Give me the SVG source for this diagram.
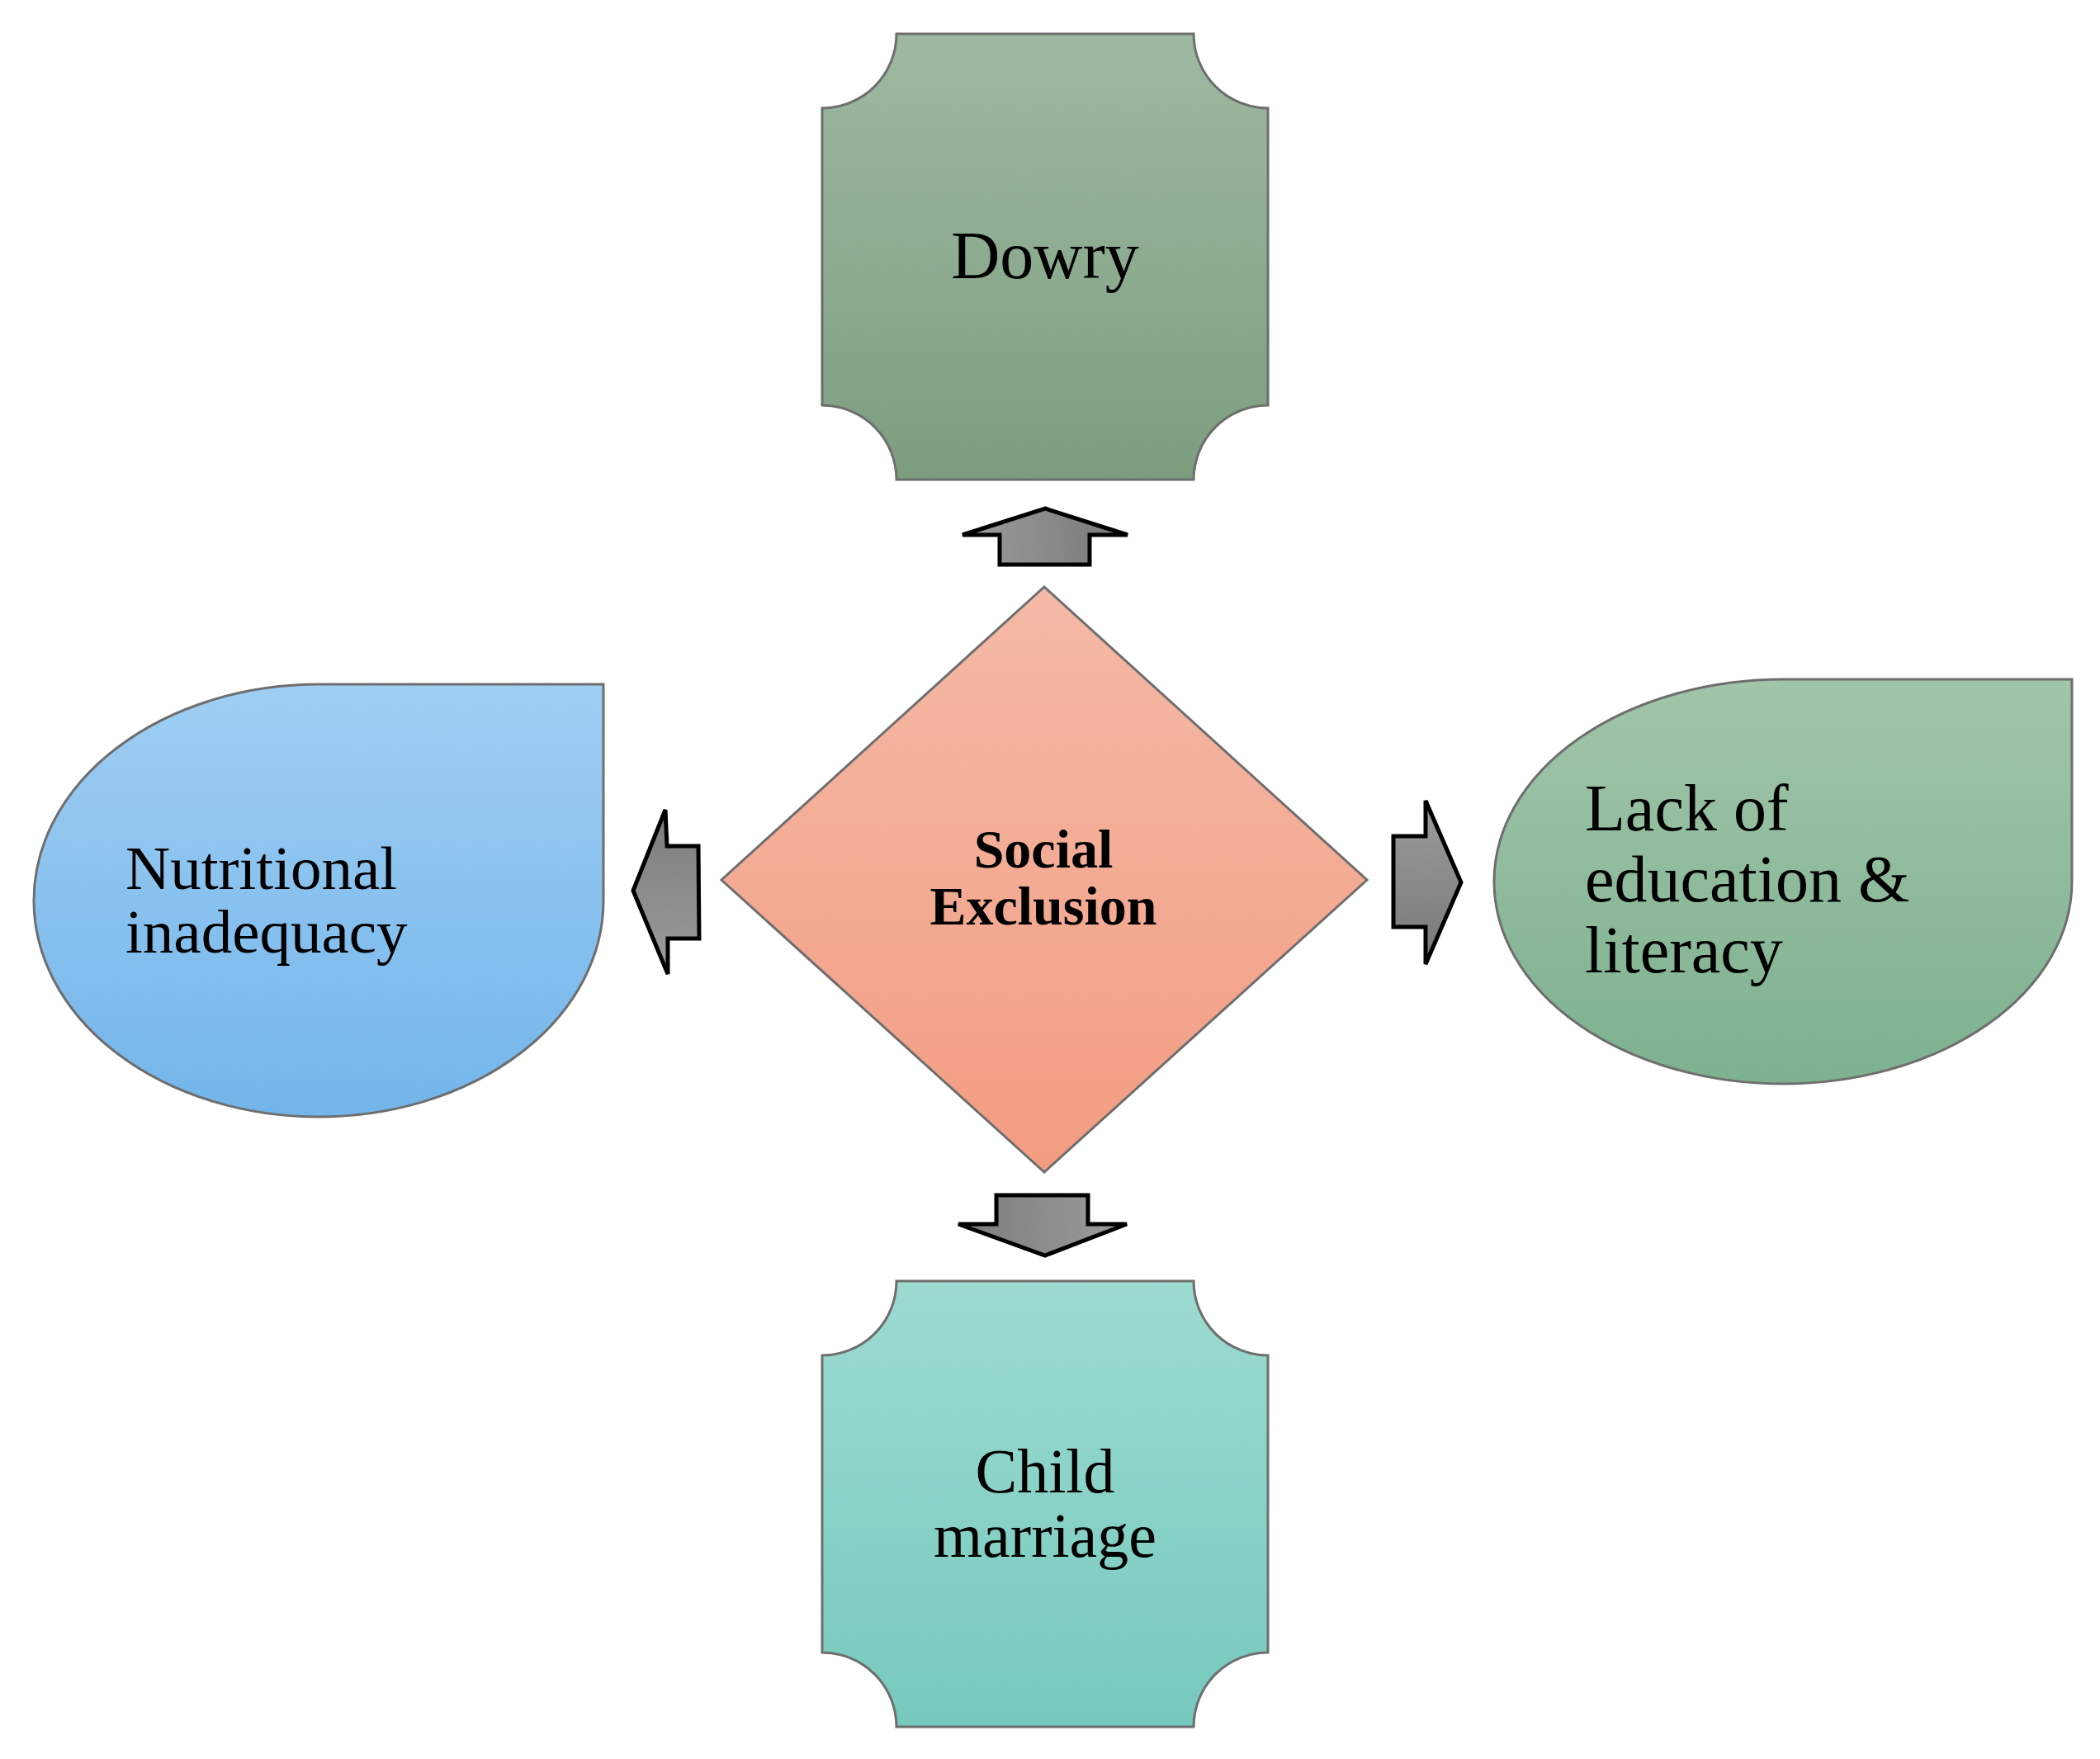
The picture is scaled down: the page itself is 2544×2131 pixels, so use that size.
<svg xmlns="http://www.w3.org/2000/svg" width="2544" height="2131" viewBox="0 0 2544 2131">
<defs>
<linearGradient id="gDowry" x1="0" y1="0" x2="0" y2="1"><stop offset="0" stop-color="#9EB9A1"/><stop offset="1" stop-color="#7C9E7F"/></linearGradient>
<linearGradient id="gChild" x1="0" y1="0" x2="0" y2="1"><stop offset="0" stop-color="#9DDBD1"/><stop offset="1" stop-color="#75C9BC"/></linearGradient>
<linearGradient id="gDiamond" x1="0" y1="0" x2="0" y2="1"><stop offset="0" stop-color="#F4BAA6"/><stop offset="1" stop-color="#F39C82"/></linearGradient>
<linearGradient id="gBlue" x1="0" y1="0" x2="0" y2="1"><stop offset="0" stop-color="#9FCEF3"/><stop offset="1" stop-color="#73B5EA"/></linearGradient>
<linearGradient id="gGreen" x1="0" y1="0" x2="0" y2="1"><stop offset="0" stop-color="#A1C5A9"/><stop offset="1" stop-color="#7DB18F"/></linearGradient>
<linearGradient id="gUp" x1="0" y1="0" x2="1" y2="0"><stop offset="0" stop-color="#9C9C9C"/><stop offset="1" stop-color="#787878"/></linearGradient>
<linearGradient id="gDown" x1="0" y1="0" x2="1" y2="0"><stop offset="0" stop-color="#7C7C7C"/><stop offset="1" stop-color="#9C9C9C"/></linearGradient>
<linearGradient id="gLeft" x1="0" y1="0" x2="0" y2="1"><stop offset="0" stop-color="#7C7C7C"/><stop offset="1" stop-color="#9C9C9C"/></linearGradient>
<linearGradient id="gRight" x1="0" y1="0" x2="0" y2="1"><stop offset="0" stop-color="#9C9C9C"/><stop offset="1" stop-color="#787878"/></linearGradient>
</defs>
<style>
.shape{stroke:#6E6E6E;stroke-width:3}
.arrow{stroke:#000;stroke-width:5;stroke-linejoin:miter}
.t{font-family:"Liberation Serif","Times New Roman",serif;fill:#000}
.b{font-weight:bold}
</style>
<rect width="2544" height="2131" fill="#FFFFFF"/>
<g id="connectors">
<path class="arrow" fill="url(#gUp)" d="M1266,616 L1366,648 L1320,648 L1320,684 L1211,684 L1211,648 L1166,648 Z"/>
<path class="arrow" fill="url(#gDown)" d="M1207,1448 L1318,1448 L1318,1483 L1365,1483 L1266,1521 L1161,1483 L1207,1483 Z"/>
<path class="arrow" fill="url(#gLeft)" d="M767,1079 L806,981 L808,1025 L846,1025 L847,1137 L809,1137 L809,1180 Z"/>
<path class="arrow" fill="url(#gRight)" d="M1688,1013 L1727,1013 L1727,970 L1770,1069 L1727,1168 L1727,1123 L1688,1123 Z"/>
</g>
<g id="dowry">
<path class="shape" fill="url(#gDowry)" d="M1086,41 H1446 A90,90 0 0 0 1536,131 V491 A90,90 0 0 0 1446,581 H1086 A90,90 0 0 0 996,491 V131 A90,90 0 0 0 1086,41 Z"/>
<text class="t" x="1266" y="337" font-size="82" text-anchor="middle">Dowry</text>
</g>
<g id="social-exclusion">
<path class="shape" fill="url(#gDiamond)" d="M1265,711 L1656,1066 L1265,1420 L874,1066 Z"/>
<text class="t b" x="1264" y="1051" font-size="66" text-anchor="middle">Social</text>
<text class="t b" x="1264" y="1120" font-size="66" text-anchor="middle">Exclusion</text>
</g>
<g id="child-marriage">
<path class="shape" fill="url(#gChild)" d="M1086,1552 H1446 A90,90 0 0 0 1536,1642 V2002 A90,90 0 0 0 1446,2092 H1086 A90,90 0 0 0 996,2002 V1642 A90,90 0 0 0 1086,1552 Z"/>
<text class="t" x="1266" y="1808" font-size="76" text-anchor="middle">Child</text>
<text class="t" x="1266" y="1886" font-size="76" text-anchor="middle">marriage</text>
</g>
<g id="nutritional-inadequacy">
<path class="shape" fill="url(#gBlue)" d="M386,829 L731,829 L731,1091 A345,262 0 0 1 386,1353 A345,262 0 0 1 41,1091 A345,262 0 0 1 386,829 Z"/>
<text class="t" x="152" y="1077" font-size="75">Nutritional</text>
<text class="t" x="152" y="1154" font-size="75">inadequacy</text>
</g>
<g id="lack-of-education">
<path class="shape" fill="url(#gGreen)" d="M2160,823 L2510,823 L2510,1068 A350,245 0 0 1 2160,1313 A350,245 0 0 1 1810,1068 A350,245 0 0 1 2160,823 Z"/>
<text class="t" x="1920" y="1006" font-size="80">Lack of</text>
<text class="t" x="1920" y="1092" font-size="80">education &amp;</text>
<text class="t" x="1920" y="1178" font-size="80">literacy</text>
</g>
</svg>
